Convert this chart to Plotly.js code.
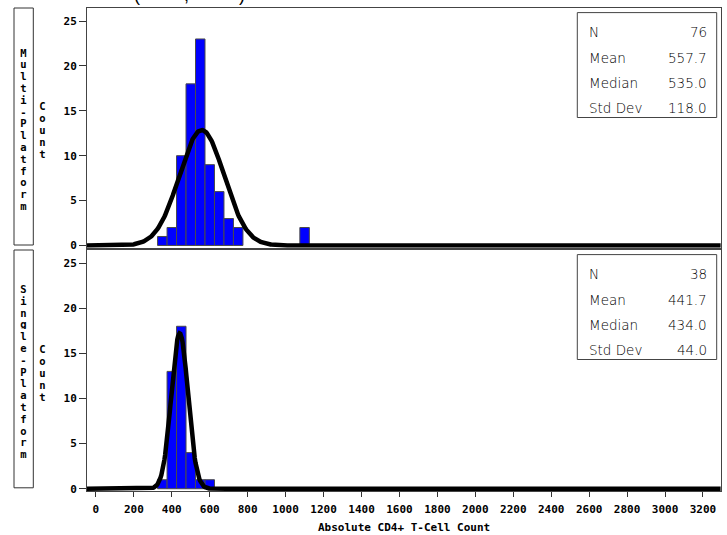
<!DOCTYPE html>
<html>
<head>
<meta charset="utf-8">
<script src="https://cdn.plot.ly/plotly-3.0.1.min.js"></script>
<style>
  html, body { margin: 0; padding: 0; background: #ffffff; }
  #chart { width: 727px; height: 535px; }
</style>
</head>
<body>
<div id="chart"></div>
<script>
// Histogram data: bin midpoints (cells/uL) and counts per platform
const panelNames = ['Multi-Platform', 'Single-Platform'];
const multiBinMid = [350, 400, 450, 500, 550, 600, 650, 700, 750, 1100];
const multiCounts = [1, 2, 10, 18, 23, 9, 6, 3, 2, 2];
const singleBinMid = [350, 400, 450, 500, 550, 600];
const singleCounts = [1, 13, 18, 4, 1, 1];
const binWidth = 50;

// Summary statistics shown in the inset tables
const statLabels = ['N', 'Mean', 'Median', 'Std Dev'];
const multiStats = [76, 557.7, 535.0, 118.0];
const singleStats = [38, 441.7, 434.0, 44.0];

// Axis ticks
const xTickVals = [0, 200, 400, 600, 800, 1000, 1200, 1400, 1600, 1800, 2000, 2200, 2400, 2600, 2800, 3000, 3200];
const yTickVals = [0, 5, 10, 15, 20, 25];
const xAxisLabel = 'Absolute CD4+ T-Cell Count';
const yAxisLabel = 'Count';

// ---- page geometry (pixels) ----
const W = 727, H = 535;
const M = { l: 87, r: 6, t: 8, b: 44 };
const plotW = W - M.l - M.r, plotH = H - M.t - M.b;
const px = v => (v - M.l) / plotW;
const py = v => (H - M.b - v) / plotH;

const topPanel = { top: 8, bottom: 247.7, zero: 245.5 };
const botPanel = { top: 250, bottom: 491, zero: 488.3 };

const monoBold = { family: 'DejaVu Sans Mono', size: 11, color: '#000', weight: 'bold' };
const letterFont = { family: 'DejaVu Sans Mono', size: 10.5, color: '#000', weight: 'bold' };
const statFont = { family: 'DejaVu Sans', size: 13.5, color: '#000', weight: 300 };

// Fitted normal density scaled to counts per bin
function normalCurve(n, mean, sd) {
  const xs = [], ys = [];
  for (let x = -47; x <= 3295; x += 4) {
    const z = (x - mean) / sd;
    xs.push(x);
    ys.push(n * binWidth * Math.exp(-0.5 * z * z) / (sd * Math.sqrt(2 * Math.PI)));
  }
  return { xs, ys };
}

const multiCurve = normalCurve(multiStats[0], multiStats[1], multiStats[3]);
const singleCurve = normalCurve(singleStats[0], singleStats[1], singleStats[3]);

const barStyle = { color: '#0000ff', line: { color: '#4a4a4a', width: 1 } };

const traces = [
  { type: 'bar', x: multiBinMid, y: multiCounts, width: binWidth, marker: barStyle,
    xaxis: 'x2', yaxis: 'y2', hoverinfo: 'skip' },
  { type: 'scatter', mode: 'lines', x: multiCurve.xs, y: multiCurve.ys,
    line: { color: '#000', width: 4.5 }, xaxis: 'x2', yaxis: 'y2', hoverinfo: 'skip' },
  { type: 'bar', x: singleBinMid, y: singleCounts, width: binWidth, marker: barStyle,
    xaxis: 'x', yaxis: 'y', hoverinfo: 'skip' },
  { type: 'scatter', mode: 'lines', x: singleCurve.xs, y: singleCurve.ys,
    line: { color: '#000', width: 4.5 }, xaxis: 'x', yaxis: 'y', hoverinfo: 'skip' }
];

const yCommon = {
  range: [-0.25, 26.45], tickvals: yTickVals, ticks: 'outside', ticklen: 7,
  tickwidth: 1, tickcolor: '#333', tickfont: monoBold, showline: true,
  linecolor: '#444', linewidth: 1, mirror: true, showgrid: false, zeroline: false,
  fixedrange: true
};

const annotations = [];
const shapes = [];

// Stacked row labels and y-axis labels (one upright letter per line)
function stackLetters(str, xPix, centerPix, step) {
  const letters = str.split('');
  letters.forEach((ch, i) => {
    annotations.push({ xref: 'paper', yref: 'paper', x: px(xPix),
      y: py(centerPix + (i - (letters.length - 1) / 2) * step),
      text: ch, showarrow: false, font: letterFont, height: 10, width: 9,
      xanchor: 'center', yanchor: 'middle' });
  });
}

[[topPanel, panelNames[0]], [botPanel, panelNames[1]]].forEach(([p, name]) => {
  const mid = (p.top + p.zero) / 2;
  shapes.push({ type: 'rect', xref: 'paper', yref: 'paper',
    x0: px(14), x1: px(33.3), y0: py(p.top), y1: py(p.zero - 0.5),
    line: { color: '#333', width: 1 }, fillcolor: 'rgba(0,0,0,0)' });
  stackLetters(name, 23.5, mid + 2.5, 11.8);
  stackLetters(yAxisLabel, 42.7, mid + 3.5, 12);
});

// Inset statistics tables
const statRows = [24, 49.5, 74.5, 100];
[[topPanel, multiStats], [botPanel, singleStats]].forEach(([p, vals]) => {
  shapes.push({ type: 'rect', xref: 'paper', yref: 'paper',
    x0: px(577.3), x1: px(716.7), y0: py(p.top + 4.6), y1: py(p.top + 109.5),
    line: { color: '#444', width: 1 }, fillcolor: '#fff' });
  statLabels.forEach((lab, i) => {
    const txt = i === 0 ? String(vals[i]) : vals[i].toFixed(1);
    annotations.push({ xref: 'paper', yref: 'paper', x: px(587), y: py(p.top + statRows[i]),
      text: lab, showarrow: false, font: statFont, xanchor: 'left', yanchor: 'middle' });
    annotations.push({ xref: 'paper', yref: 'paper', x: px(709), y: py(p.top + statRows[i]),
      text: txt, showarrow: false, font: statFont, xanchor: 'right', yanchor: 'middle' });
  });
});

// Shared x-axis label
annotations.push({ xref: 'paper', yref: 'paper', x: 0.5, y: py(527), text: xAxisLabel,
  showarrow: false, font: monoBold, xanchor: 'center', yanchor: 'middle' });

// Page heading (lies mostly above the page edge)
[['(', 137], [',', 186], [')', 242]].forEach(([ch, x]) => {
  annotations.push({ xref: 'paper', yref: 'paper', x: px(x), y: py(5.5), text: ch,
    showarrow: false, borderpad: 0,
    font: { family: 'Liberation Sans', size: 18, color: '#000' },
    xanchor: 'center', yanchor: 'bottom' });
});

const layout = {
  width: W, height: H,
  margin: M,
  paper_bgcolor: '#fff', plot_bgcolor: '#fff',
  showlegend: false,
  xaxis: {
    domain: [0, 1], anchor: 'y', range: [-47, 3295], tickvals: xTickVals,
    ticks: 'outside', ticklen: 5, tickwidth: 1, tickcolor: '#333',
    tickfont: monoBold, ticklabelstandoff: 3, showline: true, linecolor: '#444',
    linewidth: 1, mirror: true, showgrid: false, zeroline: false, fixedrange: true
  },
  xaxis2: {
    domain: [0, 1], anchor: 'y2', matches: 'x', range: [-47, 3295],
    showticklabels: false, ticks: '', showline: true, linecolor: '#444',
    linewidth: 1, mirror: true, showgrid: false, zeroline: false, fixedrange: true
  },
  yaxis: Object.assign({}, yCommon, { domain: [0, py(botPanel.top)], anchor: 'x' }),
  yaxis2: Object.assign({}, yCommon, { domain: [py(topPanel.bottom), 1], anchor: 'x2' }),
  shapes: shapes,
  annotations: annotations
};

Plotly.newPlot('chart', traces, layout, { displayModeBar: false, staticPlot: true });
</script>
</body>
</html>
